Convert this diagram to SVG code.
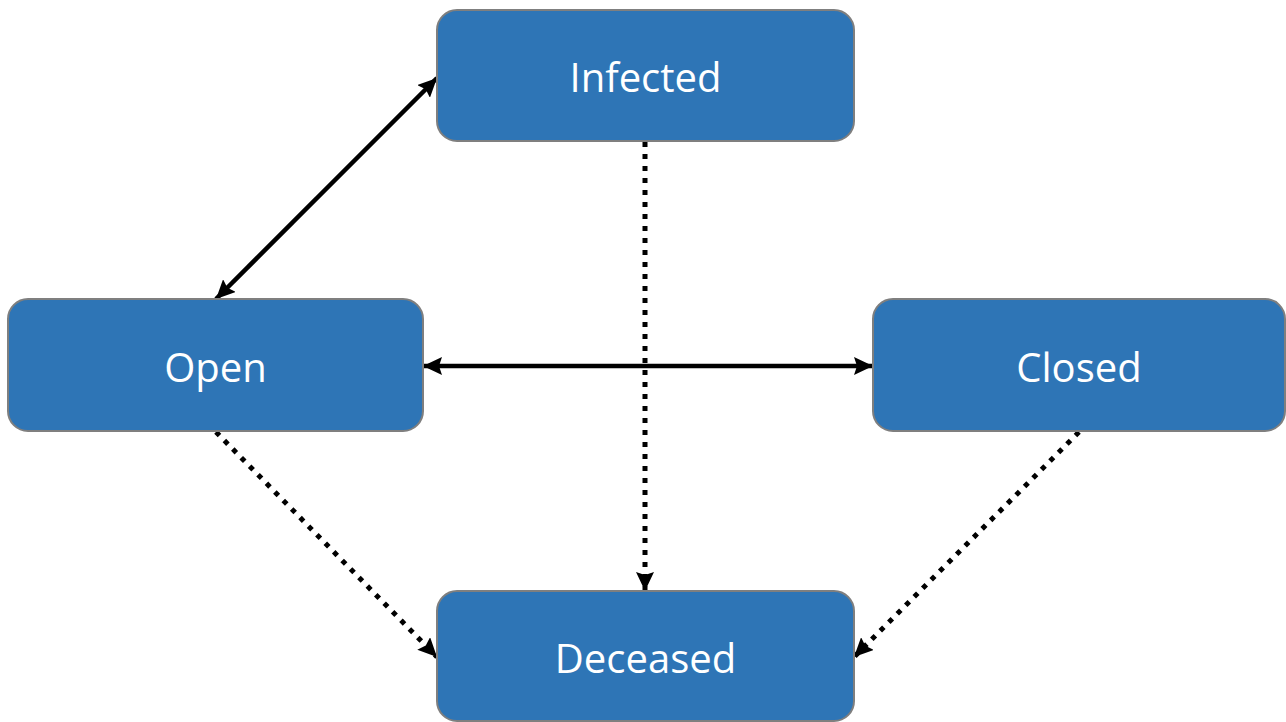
<svg xmlns="http://www.w3.org/2000/svg" width="1286" height="722" viewBox="0 0 1286 722">
<style>
.box{fill:#2E75B6;stroke:#7F7F7F;stroke-width:2}
.lbl{fill:#FFFFFF;font-family:"Open Sans","Liberation Sans",sans-serif;font-size:40px;text-anchor:middle;dominant-baseline:central}
.solid{stroke:#000;stroke-width:4.5;fill:none}
.dot{stroke:#000;stroke-width:5;fill:none;stroke-dasharray:5 7}
</style>
<defs>
<marker id="ah" markerUnits="userSpaceOnUse" markerWidth="20" markerHeight="18" refX="19" refY="9" orient="auto-start-reverse">
<path d="M0,0 L19,9 L0,18 L3,9 z" fill="#000"/>
</marker>
</defs>
<rect width="1286" height="722" fill="#FFFFFF"/>
<g id="connectors">
<line class="solid" x1="216" y1="299" x2="437" y2="78" marker-start="url(#ah)" marker-end="url(#ah)"/>
<line class="solid" x1="423" y1="366" x2="873" y2="366" marker-start="url(#ah)" marker-end="url(#ah)"/>
<line class="dot" x1="645" y1="142" x2="645" y2="591" marker-end="url(#ah)"/>
<line class="dot" x1="216" y1="432" x2="437" y2="657" marker-end="url(#ah)"/>
<line class="dot" x1="1079" y1="432" x2="854" y2="657" marker-end="url(#ah)"/>
</g>
<g id="infected">
<rect class="box" x="437" y="10" width="417" height="131" rx="20"/>
<text class="lbl" x="645.5" y="76">Infected</text>
</g>
<g id="open">
<rect class="box" x="8" y="299" width="415" height="132" rx="20"/>
<text class="lbl" x="215.5" y="366">Open</text>
</g>
<g id="closed">
<rect class="box" x="873" y="299" width="412" height="132" rx="20"/>
<text class="lbl" x="1079" y="366">Closed</text>
</g>
<g id="deceased">
<rect class="box" x="437" y="591" width="417" height="130" rx="20"/>
<text class="lbl" x="645.5" y="657">Deceased</text>
</g>
</svg>
